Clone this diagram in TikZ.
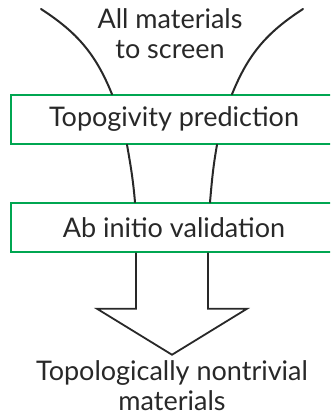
\documentclass[tikz,border=0pt]{standalone}
\usepackage{fontspec}
\setmainfont{Lato}
\usetikzlibrary{positioning}
\definecolor{stageGreen}{RGB}{0,166,81}
\definecolor{inkGrey}{RGB}{40,40,40}
\begin{document}
\begin{tikzpicture}[x=1pt, y=1pt,
  stagebox/.style={draw=stageGreen, line width=1.5pt, minimum width=326pt, minimum height=49pt,
    inner sep=0pt, font=\fontsize{27}{30}\selectfont, text=inkGrey},
  endlabel/.style={align=center, inner sep=0pt, font=\fontsize{27}{30}\selectfont, text=inkGrey},
  funnel/.style={draw=inkGrey, line width=2pt, line cap=round}]
% Page frame, the boxes run off the right edge
\useasboundingbox (0,0) rectangle (330,417);
\clip (0,0) rectangle (330,417);
% Stages
\node[stagebox] (predict) at (174,297.5) {Topogivity prediction};
\node[stagebox] (validate) at (174,189.5) {Ab initio validation};
% Input and output texts
\node[endlabel] (pool) at (170,383) {All materials\\to screen};
\node[endlabel] (result) at (172,31) {Topologically nontrivial\\materials};
% Funnel walls
\coordinate (inL) at (41,408);
\coordinate (inR) at (303,408);
\draw[funnel] (inL) to[out=-33, in=112] ([xshift=-62pt]predict.north);
\draw[funnel] (inR) to[out=213, in=68] ([xshift=58pt]predict.north);
\draw[funnel] ([xshift=-47pt]predict.south) to[out=-80, in=95] ([xshift=-39pt]validate.north);
\draw[funnel] ([xshift=43pt]predict.south) to[out=-100, in=85] ([xshift=36pt]validate.north);
% Outlined arrow out of the last stage
\draw[draw=inkGrey, line width=1.8pt, line join=miter]
  ([xshift=-38pt]validate.south) -- ++(0,-56) -- ++(-39,0) -- ++(75,-46)
  -- ++(75,46) -- ++(-39,0) -- ([xshift=34pt]validate.south);
\end{tikzpicture}
\end{document}
